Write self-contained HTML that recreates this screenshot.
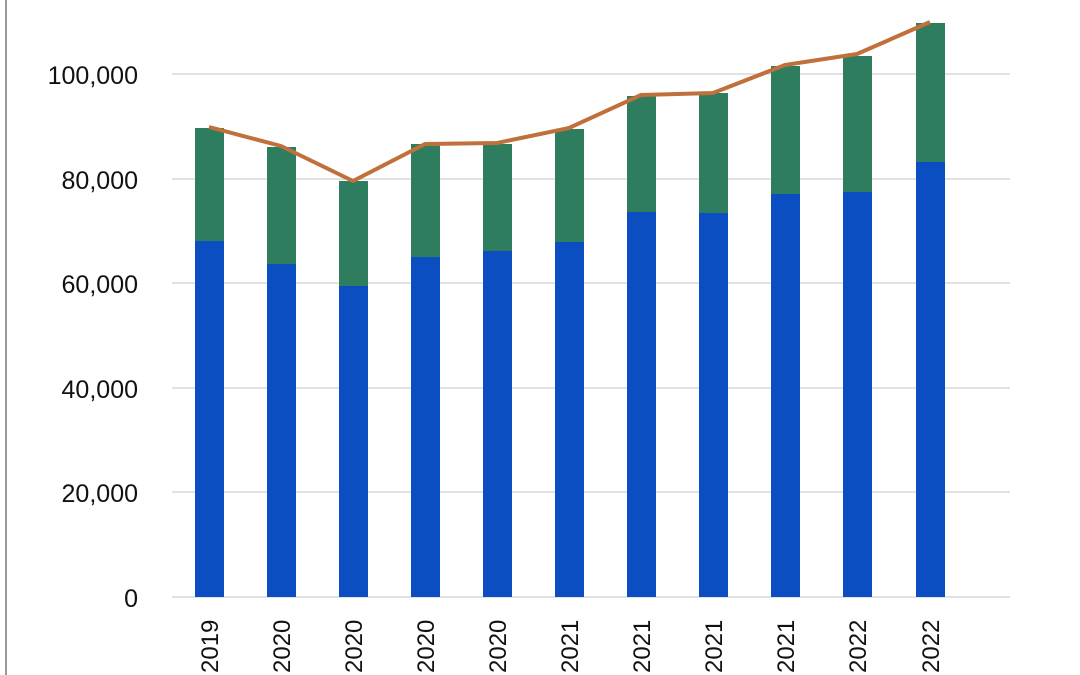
<!DOCTYPE html>
<html><head><meta charset="utf-8"><style>
html,body{margin:0;padding:0;background:#fff;width:1080px;height:675px;overflow:hidden}
</style></head><body>
<svg width="1080" height="675" viewBox="0 0 1080 675" xmlns="http://www.w3.org/2000/svg" font-family="Liberation Sans, sans-serif">
<line x1="6" y1="0" x2="6" y2="675" stroke="#999" stroke-width="2"/>
<g stroke="#d9d9d9" stroke-width="1.5">
<line x1="172" y1="74" x2="1010" y2="74"/>
<line x1="172" y1="179" x2="1010" y2="179"/>
<line x1="172" y1="283" x2="1010" y2="283"/>
<line x1="172" y1="388" x2="1010" y2="388"/>
<line x1="172" y1="492" x2="1010" y2="492"/>
<line x1="172" y1="597" x2="1010" y2="597"/>
</g>
<g font-size="25" fill="#111" text-anchor="end">
<text x="138" y="84">100,000</text>
<text x="138" y="189">80,000</text>
<text x="138" y="293">60,000</text>
<text x="138" y="398">40,000</text>
<text x="138" y="502">20,000</text>
<text x="138" y="607">0</text>
</g>
<g fill="#0a4ec2">
<rect x="195" y="241" width="29" height="356"/>
<rect x="267" y="264" width="29" height="333"/>
<rect x="339" y="286" width="29" height="311"/>
<rect x="411" y="257" width="29" height="340"/>
<rect x="483" y="251" width="29" height="346"/>
<rect x="555" y="242" width="29" height="355"/>
<rect x="627" y="212" width="29" height="385"/>
<rect x="699" y="213" width="29" height="384"/>
<rect x="771" y="194" width="29" height="403"/>
<rect x="843" y="192" width="29" height="405"/>
<rect x="916" y="162" width="29" height="435"/>
</g>
<g fill="#2e7d5e">
<rect x="195" y="128" width="29" height="113"/>
<rect x="267" y="147" width="29" height="117"/>
<rect x="339" y="181" width="29" height="105"/>
<rect x="411" y="144" width="29" height="113"/>
<rect x="483" y="144" width="29" height="107"/>
<rect x="555" y="129" width="29" height="113"/>
<rect x="627" y="96" width="29" height="116"/>
<rect x="699" y="93" width="29" height="120"/>
<rect x="771" y="66" width="29" height="128"/>
<rect x="843" y="56" width="29" height="136"/>
<rect x="916" y="23" width="29" height="139"/>
</g>
<polyline fill="none" stroke="#c0703a" stroke-width="4" stroke-linejoin="round" points="209,127 281,146 353,181 425,144 497,143 569,128 641,95 713,93 785,65 857,54 930,22"/>
<g font-size="24" fill="#111">
<text transform="translate(218,673) rotate(-90)">2019</text>
<text transform="translate(290,673) rotate(-90)">2020</text>
<text transform="translate(362,673) rotate(-90)">2020</text>
<text transform="translate(434,673) rotate(-90)">2020</text>
<text transform="translate(506,673) rotate(-90)">2020</text>
<text transform="translate(578,673) rotate(-90)">2021</text>
<text transform="translate(650,673) rotate(-90)">2021</text>
<text transform="translate(722,673) rotate(-90)">2021</text>
<text transform="translate(794,673) rotate(-90)">2021</text>
<text transform="translate(866,673) rotate(-90)">2022</text>
<text transform="translate(939,673) rotate(-90)">2022</text>
</g>
</svg>
</body></html>
